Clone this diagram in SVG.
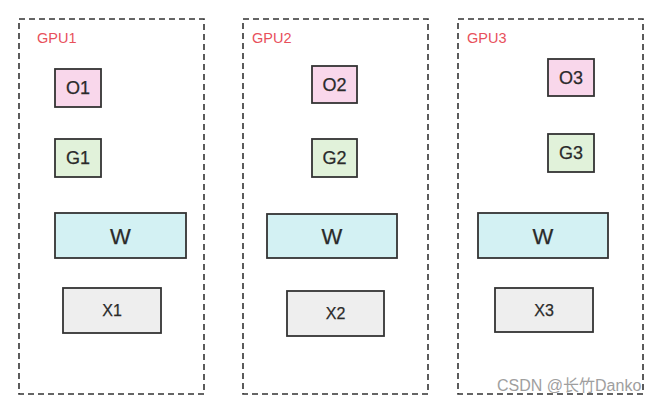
<svg xmlns="http://www.w3.org/2000/svg" width="656" height="403" viewBox="0 0 656 403">
<style>
.gpu{fill:none;stroke:#333;stroke-width:1.6;stroke-dasharray:6 4}
.gl{font-family:"Liberation Sans",Arial,sans-serif;font-size:14.5px;fill:#e8505b}
.n{stroke:#333;stroke-width:1.8}
.o{fill:#f9d7eb}.g{fill:#e1f2da}.w{fill:#d3f1f3}.x{fill:#eeeeee}
.t{font-family:"Liberation Sans",Arial,sans-serif;fill:#2a2a2a;stroke:#2a2a2a;stroke-width:0.25;text-anchor:middle;dominant-baseline:central}
.ts{font-size:18px}.tw{font-size:22px}.tx{font-size:16px}
.wm{font-family:"Liberation Sans","Noto Sans CJK SC",sans-serif;font-size:16px;fill:#888;opacity:0.8}
</style>
<rect width="656" height="403" fill="#fff"/>
<g id="gpu1">
<rect class="gpu" x="19" y="19" width="185" height="375"/>
<text class="gl" x="37" y="43">GPU1</text>
</g>
<g id="gpu2">
<rect class="gpu" x="243" y="19" width="185" height="375"/>
<text class="gl" x="252" y="43">GPU2</text>
</g>
<g id="gpu3">
<rect class="gpu" x="458" y="19" width="185" height="375"/>
<text class="gl" x="467" y="43">GPU3</text>
</g>
<g id="o1"><rect class="n o" x="55" y="69" width="46" height="38"/><text class="t ts" x="78" y="88">O1</text></g>
<g id="g1"><rect class="n g" x="55" y="139" width="46" height="38"/><text class="t ts" x="78" y="158">G1</text></g>
<g id="w1"><rect class="n w" x="55" y="213" width="131" height="45"/><text class="t tw" x="120.5" y="236">W</text></g>
<g id="x1"><rect class="n x" x="63" y="288" width="98" height="45"/><text class="t tx" x="112" y="310.5">X1</text></g>
<g id="o2"><rect class="n o" x="312" y="66" width="45" height="37"/><text class="t ts" x="334.5" y="84.5">O2</text></g>
<g id="g2"><rect class="n g" x="312" y="139" width="45" height="38"/><text class="t ts" x="334.5" y="158">G2</text></g>
<g id="w2"><rect class="n w" x="267" y="214" width="130" height="44"/><text class="t tw" x="332" y="236">W</text></g>
<g id="x2"><rect class="n x" x="287" y="291" width="97" height="45"/><text class="t tx" x="335.5" y="313.5">X2</text></g>
<g id="o3"><rect class="n o" x="548" y="59" width="46" height="37"/><text class="t ts" x="571" y="77.5">O3</text></g>
<g id="g3"><rect class="n g" x="548" y="134" width="46" height="38"/><text class="t ts" x="571" y="153">G3</text></g>
<g id="w3"><rect class="n w" x="478" y="213" width="130" height="45"/><text class="t tw" x="543" y="236">W</text></g>
<g id="x3"><rect class="n x" x="495" y="288" width="98" height="44"/><text class="t tx" x="544" y="310">X3</text></g>
<g id="connectors"></g>
<text class="wm" x="497" y="391">CSDN @长竹Danko</text>
</svg>
